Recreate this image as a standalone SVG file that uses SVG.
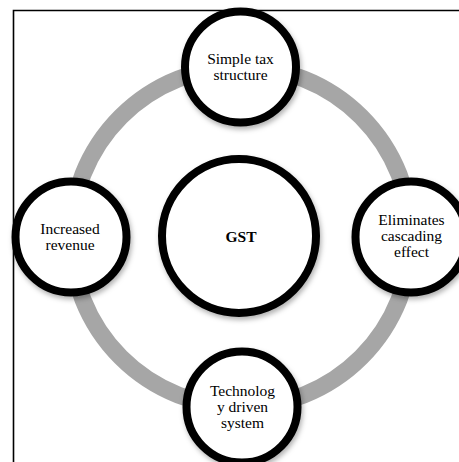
<svg xmlns="http://www.w3.org/2000/svg" width="459" height="462" viewBox="0 0 459 462">
<style>
.node{fill:#fff;stroke:#000;stroke-width:8;filter:url(#sh)}
.lbl{font-family:"Liberation Serif","Times New Roman",serif;font-size:15.5px;fill:#000;text-anchor:middle}
.ring{fill:none;stroke:#a6a6a6;stroke-width:17}
</style>
<defs>
<filter id="sh" x="-20%" y="-20%" width="150%" height="150%">
<feDropShadow dx="1.5" dy="3" stdDeviation="2.5" flood-color="#000" flood-opacity="0.3"/>
</filter>
</defs>
<rect width="459" height="462" fill="#fff"/>
<path d="M13.5,462 V10.5 H459" fill="none" stroke="#000" stroke-width="1.6"/>
<g id="connectors">
<circle class="ring" cx="241" cy="237" r="170"/>
</g>
<g id="node-center">
<circle class="node" cx="239" cy="236" r="77"/>
<text class="lbl" x="241" y="242" font-weight="bold" font-size="16">GST</text>
</g>
<g id="node-top">
<circle class="node" cx="240.5" cy="67" r="55.5"/>
<text class="lbl" x="240.5" y="64">Simple tax</text>
<text class="lbl" x="240.5" y="80">structure</text>
</g>
<g id="node-left">
<circle class="node" cx="71" cy="237" r="55.5"/>
<text class="lbl" x="70" y="234">Increased</text>
<text class="lbl" x="70" y="250">revenue</text>
</g>
<g id="node-right">
<circle class="node" cx="411" cy="237" r="55.5"/>
<text class="lbl" x="411.5" y="225">Eliminates</text>
<text class="lbl" x="411.5" y="241">cascading</text>
<text class="lbl" x="411.5" y="257">effect</text>
</g>
<g id="node-bottom">
<circle class="node" cx="242" cy="407" r="55.5"/>
<text class="lbl" x="242.5" y="396">Technolog</text>
<text class="lbl" x="242.5" y="412">y driven</text>
<text class="lbl" x="242.5" y="428">system</text>
</g>
</svg>
